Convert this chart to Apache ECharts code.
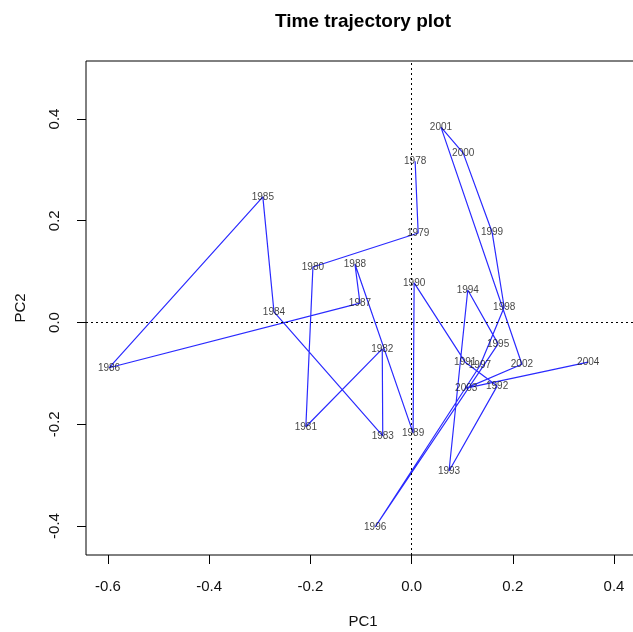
<!DOCTYPE html>
<html>
<head>
<meta charset="utf-8">
<title>Time trajectory plot</title>
<script src="https://cdn.jsdelivr.net/npm/echarts@6/dist/echarts.min.js"></script>
<style>
  html, body { margin: 0; padding: 0; background: #fff; }
  #chart { width: 633px; height: 632px; }
</style>
</head>
<body>
<div id="chart"></div>
<script>
// Yearly scores on the first two principal components
const years = [1978, 1979, 1980, 1981, 1982, 1983, 1984, 1985, 1986, 1987, 1988, 1989, 1990,
  1991, 1992, 1993, 1994, 1995, 1996, 1997, 1998, 1999, 2000, 2001, 2002, 2003, 2004];
const pc1 = [0.007, 0.013, -0.195, -0.209, -0.058, -0.057, -0.272, -0.294, -0.598, -0.102, -0.112, 0.003, 0.005,
  0.106, 0.169, 0.074, 0.111, 0.171, -0.072, 0.135, 0.183, 0.159, 0.102, 0.058, 0.218, 0.108, 0.349];
const pc2 = [0.317, 0.176, 0.109, -0.205, -0.052, -0.223, 0.021, 0.247, -0.089, 0.038, 0.115, -0.217, 0.078,
  -0.078, -0.125, -0.292, 0.064, -0.042, -0.402, -0.085, 0.030, 0.178, 0.333, 0.384, -0.082, -0.129, -0.078];

const xTicks = [-0.6, -0.4, -0.2, 0.0, 0.2, 0.4];
const yTicks = [-0.4, -0.2, 0.0, 0.2, 0.4];

const points = years.map((y, i) => [pc1[i], pc2[i], String(y)]);

const FONT = '"Liberation Sans", Arial, Helvetica, sans-serif';
const chart = echarts.init(document.getElementById('chart'), null, { renderer: 'canvas' });

const fmt = v => v.toFixed(1);

chart.setOption({
  animation: false,
  backgroundColor: '#fff',
  grid: {
    left: 86, top: 61, width: 554, height: 494,
    show: true, borderColor: '#000', borderWidth: 1, backgroundColor: 'transparent',
    containLabel: false,
    outerBoundsMode: 'none'
  },
  xAxis: {
    type: 'value', min: -0.6435, max: 0.4514,
    axisLine: { show: false, onZero: false },
    splitLine: { show: false },
    axisTick: { show: true, inside: false, length: 9, customValues: xTicks, lineStyle: { color: '#000' } },
    axisLabel: { customValues: xTicks, formatter: fmt, fontSize: 15, fontFamily: FONT, color: '#111', margin: 24 }
  },
  yAxis: {
    type: 'value', min: -0.457, max: 0.514,
    axisLine: { show: false, onZero: false },
    splitLine: { show: false },
    axisTick: { show: true, inside: false, length: 9, customValues: yTicks, lineStyle: { color: '#000' } },
    axisLabel: { customValues: yTicks, formatter: fmt, rotate: 90, fontSize: 15, fontFamily: FONT, color: '#111', margin: 24 }
  },
  graphic: [
    { type: 'text', x: 363, y: 22,
      style: { text: 'Time trajectory plot', font: 'bold 19px ' + FONT, fill: '#000', textAlign: 'center', textVerticalAlign: 'middle' } },
    { type: 'text', x: 363, y: 622,
      style: { text: 'PC1', font: '15px ' + FONT, fill: '#111', textAlign: 'center', textVerticalAlign: 'middle' } },
    { type: 'text', x: 21, y: 308, rotation: Math.PI / 2,
      style: { text: 'PC2', font: '15px ' + FONT, fill: '#111', textAlign: 'center', textVerticalAlign: 'middle' } }
  ],
  series: [
    {
      type: 'line',
      data: points,
      symbol: 'none',
      lineStyle: { color: '#2a2aff', width: 1.2 },
      z: 3,
      markLine: {
        silent: true,
        symbol: 'none',
        label: { show: false },
        lineStyle: { color: '#000', type: [2, 3], width: 1 },
        data: [{ xAxis: 0 }, { yAxis: 0 }]
      }
    },
    {
      type: 'scatter',
      data: points,
      symbolSize: 1,
      itemStyle: { color: 'rgba(0,0,0,0)' },
      z: 4,
      label: {
        show: true,
        position: 'inside',
        formatter: p => p.value[2],
        fontSize: 10,
        fontFamily: FONT,
        color: '#111'
      },
      labelLayout: { hideOverlap: false }
    }
  ]
});
</script>
</body>
</html>
